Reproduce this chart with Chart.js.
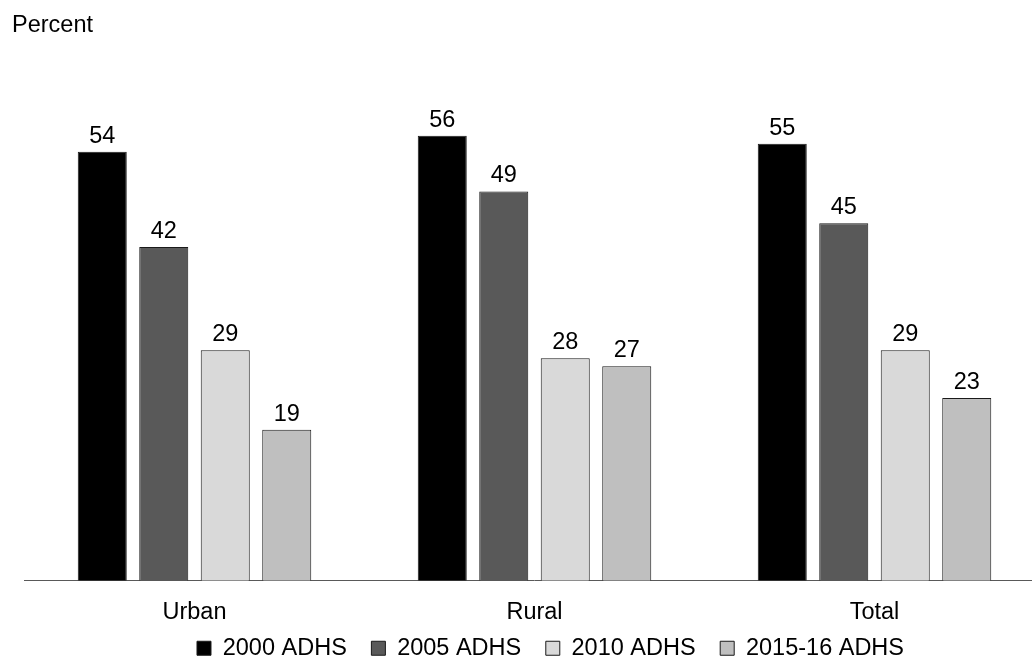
<!DOCTYPE html>
<html>
<head>
<meta charset="utf-8">
<script src="https://cdn.jsdelivr.net/npm/chart.js@4.4.1/dist/chart.umd.min.js"></script>
<style>
  html, body { margin: 0; padding: 0; background: #fff; overflow: hidden; }
  #wrap { position: relative; width: 1089px; height: 670px; }
</style>
</head>
<body>
<div id="wrap"><canvas id="chart"></canvas></div>
<script>
const categories = ["Urban", "Rural", "Total"];
const seriesNames = ["2000 ADHS", "2005 ADHS", "2010 ADHS", "2015-16 ADHS"];
const adhs2000 = [54, 56, 55];
const adhs2005 = [42, 49, 45];
const adhs2010 = [29, 28, 29];
const adhs2015 = [19, 27, 23];
const seriesColors = ["#000000", "#595959", "#d9d9d9", "#bfbfbf"];

const FONT = "'Liberation Sans', Arial, sans-serif";
const FS = 23.5;

// value labels above each bar
const barLabels = {
  id: "barLabels",
  afterDatasetsDraw(chart) {
    const ctx = chart.ctx;
    ctx.save();
    ctx.font = FS + "px " + FONT;
    ctx.fillStyle = "#000";
    ctx.textAlign = "center";
    ctx.textBaseline = "alphabetic";
    chart.data.datasets.forEach((ds, i) => {
      chart.getDatasetMeta(i).data.forEach((bar, j) => {
        ctx.fillText(ds.data[j], bar.x, bar.y - 9);
      });
    });
    ctx.restore();
  },
};

const ctx = document.getElementById("chart").getContext("2d");
const values = [adhs2000, adhs2005, adhs2010, adhs2015];

new Chart(ctx, {
  type: "bar",
  data: {
    labels: categories,
    datasets: seriesNames.map((name, i) => ({
      label: name,
      data: values[i],
      backgroundColor: seriesColors[i],
      borderColor: "#1a1a1a",
      borderWidth: 1,
      categoryPercentage: 0.7235,
      barPercentage: 0.797,
    })),
  },
  options: {
    responsive: true,
    maintainAspectRatio: false,
    animation: false,
    layout: { padding: { left: 12, right: 0, top: 0, bottom: 0 } },
    scales: {
      x: {
        grid: { display: false, drawTicks: false },
        border: { display: true, color: "#595959", width: 1 },
        ticks: { color: "#000", padding: 17.4, font: { size: FS, family: FONT } },
        afterFit: (s) => { s.height = 44.25; },
      },
      y: {
        min: 0,
        max: 60,
        grid: { display: false },
        border: { display: false },
        ticks: { display: false },
        afterFit: (s) => { s.width = 12.5; },
      },
      pad: {
        type: "linear",
        position: "right",
        grid: { display: false },
        border: { display: false },
        ticks: { display: false },
        afterFit: (s) => { s.width = 44.5; },
      },
    },
    plugins: {
      title: {
        display: true,
        text: "Percent",
        align: "start",
        color: "#000",
        font: { size: FS, weight: "normal", family: FONT },
        padding: { top: 11.9, bottom: 63.9 },
      },
      legend: {
        position: "bottom",
        labels: {
          color: "#000",
          font: { size: FS, family: FONT },
          boxWidth: 14,
          boxHeight: 14,
          padding: 11.5,
          generateLabels: (chart) => {
            const items = Chart.defaults.plugins.legend.labels.generateLabels(chart);
            items.forEach((it, i) => {
              if (i < items.length - 1) it.text = it.text + "  ";
              it.lineWidth = 1;
              it.strokeStyle = "#1a1a1a";
            });
            return items;
          },
        },
      },
      tooltip: { enabled: false },
    },
  },
  plugins: [barLabels],
});
</script>
</body>
</html>
